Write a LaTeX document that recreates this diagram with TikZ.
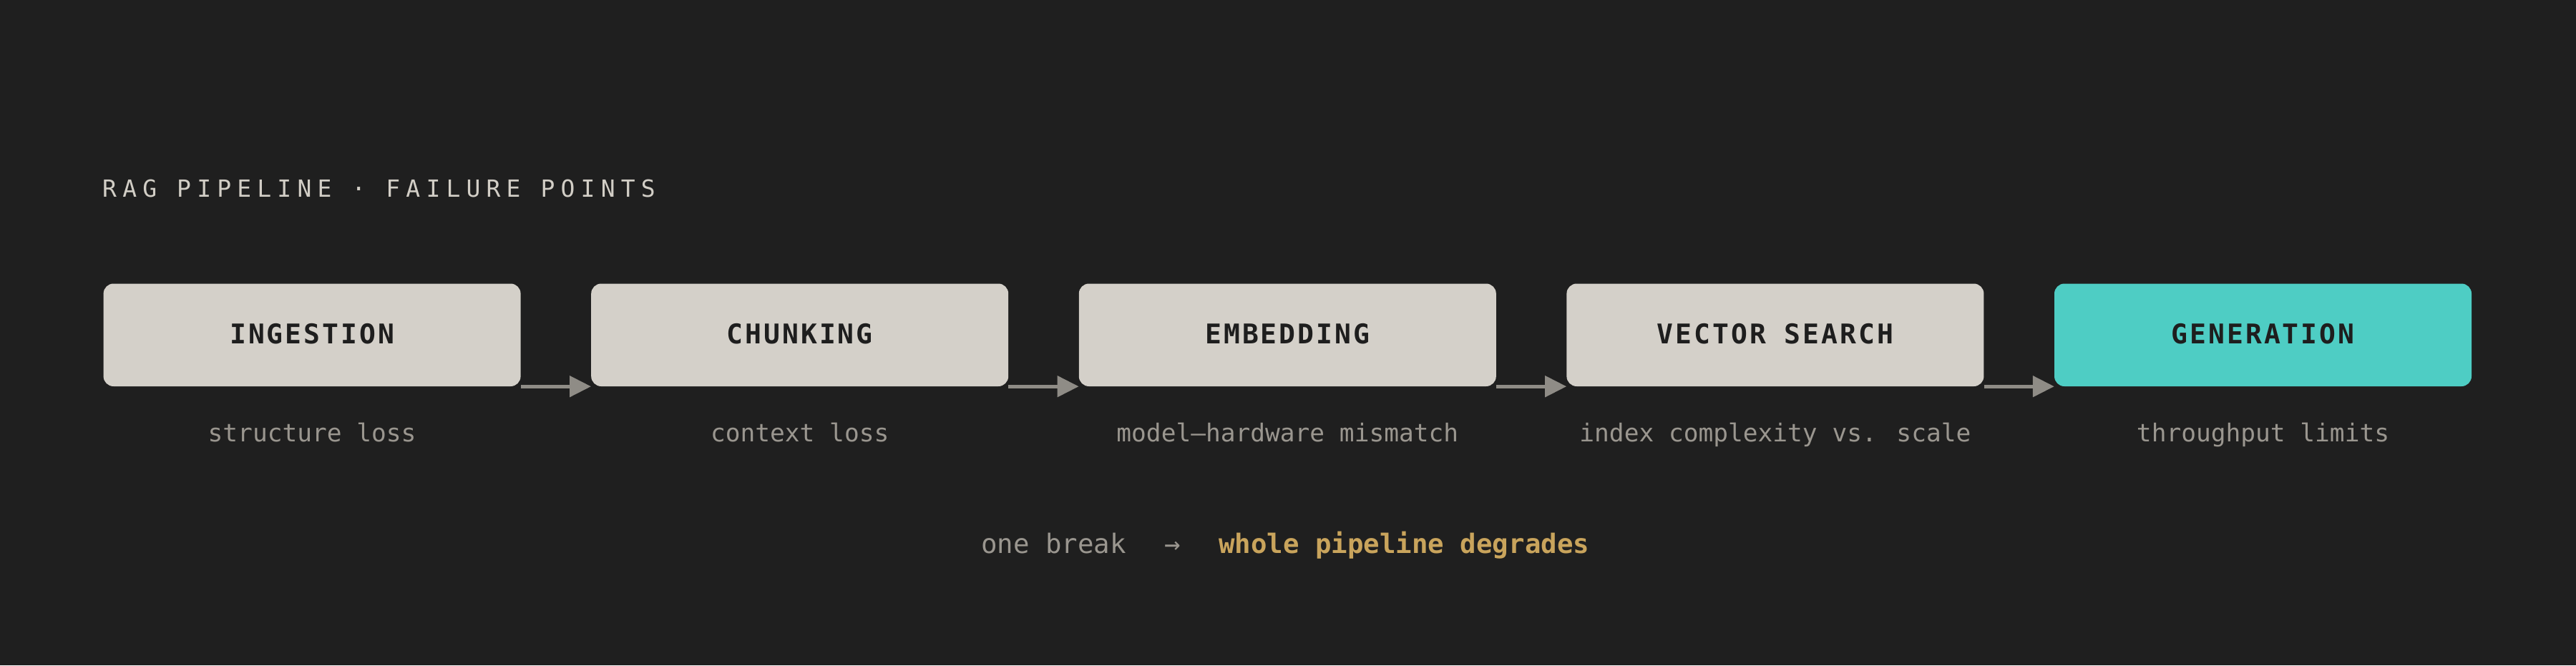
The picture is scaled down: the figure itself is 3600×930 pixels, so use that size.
\documentclass[tikz,border=0pt]{standalone}
\usepackage{fontspec}
\setmonofont{DejaVu Sans Mono}
\newfontfamily\titlefont[LetterSpace=24.8]{DejaVu Sans Mono}
\newfontfamily\labelfont[LetterSpace=7.9]{DejaVu Sans Mono}
\newfontfamily\capfont{DejaVu Sans Mono}
\usetikzlibrary{arrows.meta}
\definecolor{bg}{HTML}{1F1F1F}
\definecolor{boxcol}{HTML}{D4D0C9}
\definecolor{teal}{HTML}{4ECDC4}
\definecolor{ink}{HTML}{1E1E1E}
\definecolor{titlecol}{HTML}{D2CEC6}
\definecolor{capcol}{HTML}{9A968F}
\definecolor{arrcol}{HTML}{8F8C86}
\definecolor{gold}{HTML}{C9A45C}
\tikzset{
  stage/.style={rectangle, rounded corners=14bp, fill=boxcol, minimum width=583bp,
    minimum height=143.5bp, inner sep=0pt, text=ink,
    font=\labelfont\bfseries\fontsize{38bp}{44bp}\selectfont,
    text height=23.5bp, text depth=0bp},
  capt/.style={anchor=base, inner sep=0pt, text=capcol,
    font=\capfont\fontsize{34.5bp}{40bp}\selectfont},
  bot/.style={inner sep=0pt, font=\capfont\fontsize{37.4bp}{43bp}\selectfont},
  flow/.style={draw=arrcol, line width=5bp, -{Triangle[length=30bp,width=29bp]}, fill=arrcol}
}
\begin{document}
\begin{tikzpicture}[x=1bp,y=-1bp]
\fill[bg] (0,0) rectangle (3600,930);
\useasboundingbox (0,0) rectangle (3600,930);

\node[anchor=base west, inner sep=0pt, text=titlecol,
  font=\titlefont\fontsize{33bp}{40bp}\selectfont] (title) at (143,275.7)
  {RAG PIPELINE · FAILURE POINTS};

\node[stage] (b1) at (436.1,468.25) {INGESTION};
\node[stage] (b2) at (1117.7,468.25) {CHUNKING};
\node[stage] (b3) at (1799.3,468.25) {EMBEDDING};
\node[stage] (b4) at (2480.9,468.25) {VECTOR SEARCH};
\node[stage, fill=teal] (b5) at (3162.5,468.25) {GENERATION};

\draw[flow] (b1.south east) -- (b2.south west);
\draw[flow] (b2.south east) -- (b3.south west);
\draw[flow] (b3.south east) -- (b4.south west);
\draw[flow] (b4.south east) -- (b5.south west);

\node[capt] (c1) at (436.1,617) {structure loss};
\node[capt] (c2) at (1117.7,617) {context loss};
\node[capt] (c3) at (1799.3,617) {model–hardware mismatch};
\node[capt] (c4) at (2480.9,617) {index complexity vs. scale};
\node[capt] (c5) at (3162.5,617) {throughput limits};

\node[bot, anchor=base west, text=capcol] (ob) at (1371,773) {one break};
\node[bot, anchor=base, text=capcol] (ar) at (1639,773) {→};
\node[bot, anchor=base west, text=gold, font=\capfont\bfseries\fontsize{37.4bp}{43bp}\selectfont] (wp) at (1703,773) {whole pipeline degrades};
\end{tikzpicture}
\end{document}
